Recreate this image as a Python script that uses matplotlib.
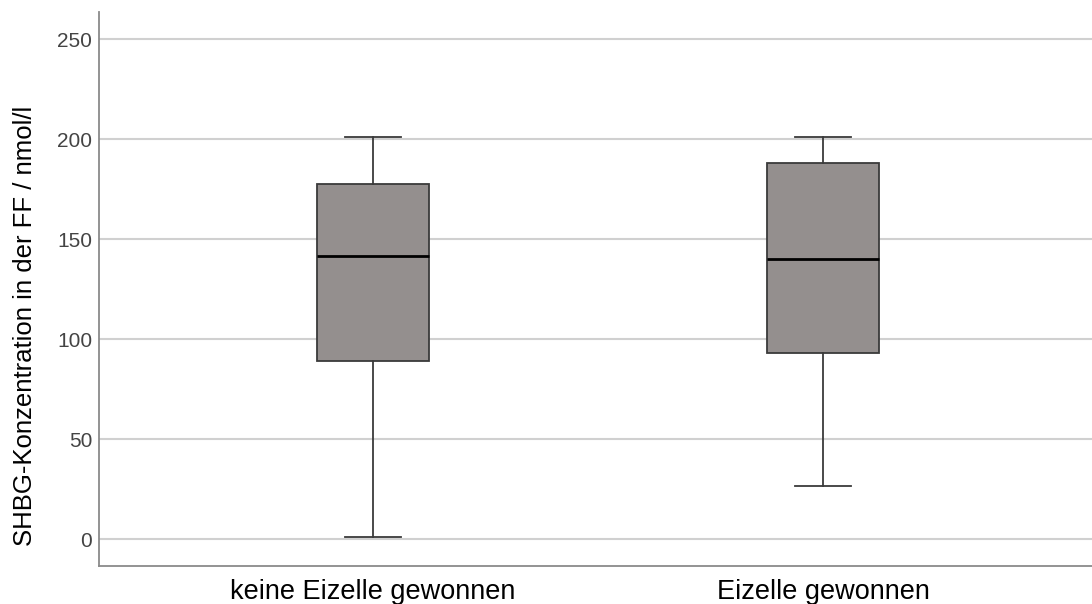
import matplotlib.pyplot as plt

plt.rcParams['font.family'] = ['Liberation Sans', 'DejaVu Sans']

# group names and box statistics
groups = ["keine Eizelle gewonnen", "Eizelle gewonnen"]
whisker_low = [1.2, 26.9]
q1 = [89.0, 93.2]
median = [141.7, 140.0]
q3 = [177.7, 187.9]
whisker_high = [201.2, 201.2]

stats = []
for i, name in enumerate(groups):
    stats.append({
        "label": name,
        "whislo": whisker_low[i],
        "q1": q1[i],
        "med": median[i],
        "q3": q3[i],
        "whishi": whisker_high[i],
        "fliers": [],
    })

fig = plt.figure(figsize=(10.92, 6.04), dpi=100)
ax = fig.add_axes([0.0907, 0.0629, 0.9093, 0.917])

edge = "#3a3a3a"
ax.bxp(stats, positions=[1, 2], widths=0.25, patch_artist=True,
       showfliers=False,
       boxprops=dict(facecolor="#948f8e", edgecolor=edge, linewidth=1.3),
       medianprops=dict(color="black", linewidth=2),
       whiskerprops=dict(color=edge, linewidth=1.3),
       capprops=dict(color=edge, linewidth=1.3),
       capwidths=0.123, zorder=3)

ax.set_xlim(0.391, 2.598)
ax.set_ylim(-13.3, 263.5)
ax.set_yticks([0, 50, 100, 150, 200, 250])
ax.yaxis.grid(True, color="#d0d0d0", linewidth=1.5, zorder=0)
ax.set_axisbelow(True)

for side in ("top", "right"):
    ax.spines[side].set_visible(False)
for side in ("left", "bottom"):
    ax.spines[side].set_color("#8a8a8a")
    ax.spines[side].set_linewidth(1.3)

ax.tick_params(axis="y", length=0, pad=5, labelsize=15, labelcolor="#444444")
ax.tick_params(axis="x", length=0, pad=9, labelsize=19.5, labelcolor="black")
ax.set_ylabel("SHBG-Konzentration in der FF / nmol/l", fontsize=18.5)
ax.yaxis.set_label_coords(-0.062, 0.433)

fig.savefig("out.png", dpi=100)
